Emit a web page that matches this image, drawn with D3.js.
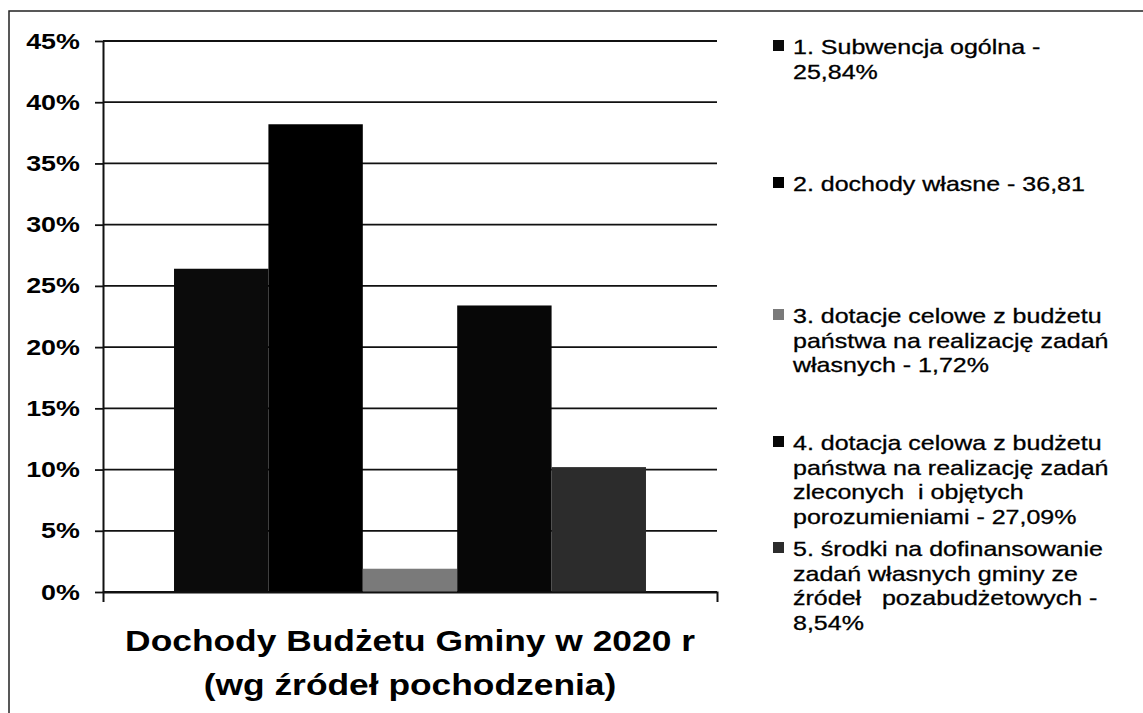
<!DOCTYPE html>
<html>
<head>
<meta charset="utf-8">
<script src="https://cdn.jsdelivr.net/npm/d3@7"></script>
<style>
  body { margin: 0; background: #fff; }
  svg { display: block; font-family: "Liberation Sans", Arial, sans-serif; }
</style>
</head>
<body>
<div id="chart"></div>
<script>
// Data
////////////////////////////////////////////////////////////////////
const categories = ["Dochody Budżetu Gminy w 2020 r"];
const categoryLines = ["Dochody Budżetu Gminy w 2020 r", "(wg źródeł pochodzenia)"];
const seriesValues = [26.4, 38.2, 1.9, 23.4, 10.2];
const seriesLabels = [
  ["1. Subwencja ogólna -", "25,84%"],
  ["2. dochody własne - 36,81"],
  ["3. dotacje celowe z budżetu", "państwa na realizację zadań", "własnych - 1,72%"],
  ["4. dotacja celowa z budżetu", "państwa na realizację zadań", "zleconych  i objętych", "porozumieniami - 27,09%"],
  ["5. środki na dofinansowanie", "zadań własnych gminy ze", "źródeł   pozabudżetowych -", "8,54%"],
];
const yTicks = [0, 5, 10, 15, 20, 25, 30, 35, 40, 45];

// Styles
////////////////////////////////////////////////////////////////////
const colors = ["#0b0b0b", "#000000", "#7a7a7a", "#070707", "#2c2c2c"];
const sx = 1.22; // the scan is stretched sideways
const legendTop = [54, 191, 323, 450, 556];
const lineGap = 24.5;

// Dimensions
////////////////////////////////////////////////////////////////////
const width = 1143;
const height = 713;
const plot = { left: 103, right: 717, top: 41, bottom: 592 };

const svg = d3.select("#chart")
  .append("svg")
  .attr("width", width)
  .attr("height", height);

// frame
svg.append("rect")
  .attr("x", 9).attr("y", 11)
  .attr("width", width + 20).attr("height", height + 20)
  .attr("fill", "none")
  .attr("stroke", "#222")
  .attr("stroke-width", 1.5);

// Scales
////////////////////////////////////////////////////////////////////
const yScale = d3.scaleLinear()
  .domain([0, 45])
  .range([plot.bottom, plot.top]);

const xScale = d3.scaleBand()
  .domain(categories)
  .range([plot.left, plot.right])
  .padding(0.1308);

const xInner = d3.scaleBand()
  .domain(d3.range(seriesValues.length))
  .range([0, xScale.bandwidth()]);

// Gridlines
////////////////////////////////////////////////////////////////////
svg.append("g")
  .selectAll("line")
  .data(yTicks)
  .join("line")
  .attr("x1", plot.left)
  .attr("x2", plot.right)
  .attr("y1", (d) => yScale(d))
  .attr("y2", (d) => yScale(d))
  .attr("stroke", "#111")
  .attr("stroke-width", 1.8);

// Bars
////////////////////////////////////////////////////////////////////
const barGroup = svg.append("g")
  .attr("transform", `translate(${xScale(categories[0])},0)`);

barGroup.selectAll("rect")
  .data(seriesValues)
  .join("rect")
  .attr("x", (d, i) => xInner(i))
  .attr("width", xInner.bandwidth())
  .attr("y", (d) => yScale(d))
  .attr("height", (d) => yScale(0) - yScale(d))
  .attr("fill", (d, i) => colors[i]);

// Axes
////////////////////////////////////////////////////////////////////
const yAxis = d3.axisLeft(yScale)
  .tickValues(yTicks)
  .tickSize(8)
  .tickSizeOuter(0)
  .tickFormat((d) => d + "%");

const yAxisGroup = svg.append("g")
  .attr("transform", `translate(${plot.left},0)`)
  .call(yAxis);

yAxisGroup.select(".domain").attr("stroke", "#111").attr("stroke-width", 2);
yAxisGroup.selectAll(".tick line").attr("stroke", "#111").attr("stroke-width", 1.8);
yAxisGroup.selectAll(".tick text")
  .attr("x", -19)
  .attr("transform", `scale(${sx},1)`)
  .attr("fill", "#000")
  .style("font-size", "22px")
  .style("font-weight", "bold");

const xAxis = d3.axisBottom(xScale)
  .tickSizeInner(0)
  .tickSizeOuter(10)
  .tickFormat("");

const xAxisGroup = svg.append("g")
  .attr("transform", `translate(0,${plot.bottom})`)
  .call(xAxis);

xAxisGroup.select(".domain").attr("stroke", "#111").attr("stroke-width", 2);
xAxisGroup.selectAll(".tick").remove();

// category label under the axis
const cx = xScale(categories[0]) + xScale.bandwidth() / 2;
svg.append("g")
  .selectAll("text")
  .data(categoryLines)
  .join("text")
  .attr("transform", (d, i) => `translate(${cx},${651 + i * 44}) scale(${sx},1)`)
  .attr("text-anchor", "middle")
  .attr("fill", "#000")
  .style("font-size", "29px")
  .style("font-weight", "bold")
  .text((d) => d);

// Legend
////////////////////////////////////////////////////////////////////
const legend = svg.append("g");

const items = legend.selectAll("g")
  .data(seriesLabels)
  .join("g")
  .attr("transform", (d, i) => `translate(0,${legendTop[i]})`);

items.append("rect")
  .attr("x", 773)
  .attr("y", -14)
  .attr("width", 11)
  .attr("height", 11)
  .attr("fill", (d, i) => colors[i]);

items.selectAll("text")
  .data((d) => d)
  .join("text")
  .attr("transform", (d, j) => `translate(793,${j * lineGap}) scale(${sx},1)`)
  .attr("fill", "#000")
  .attr("stroke", "#000")
  .attr("stroke-width", 0.3)
  .style("white-space", "pre") // keep the doubled spaces of the original
  .style("font-size", "20.5px")
  .text((d) => d);
</script>
</body>
</html>
